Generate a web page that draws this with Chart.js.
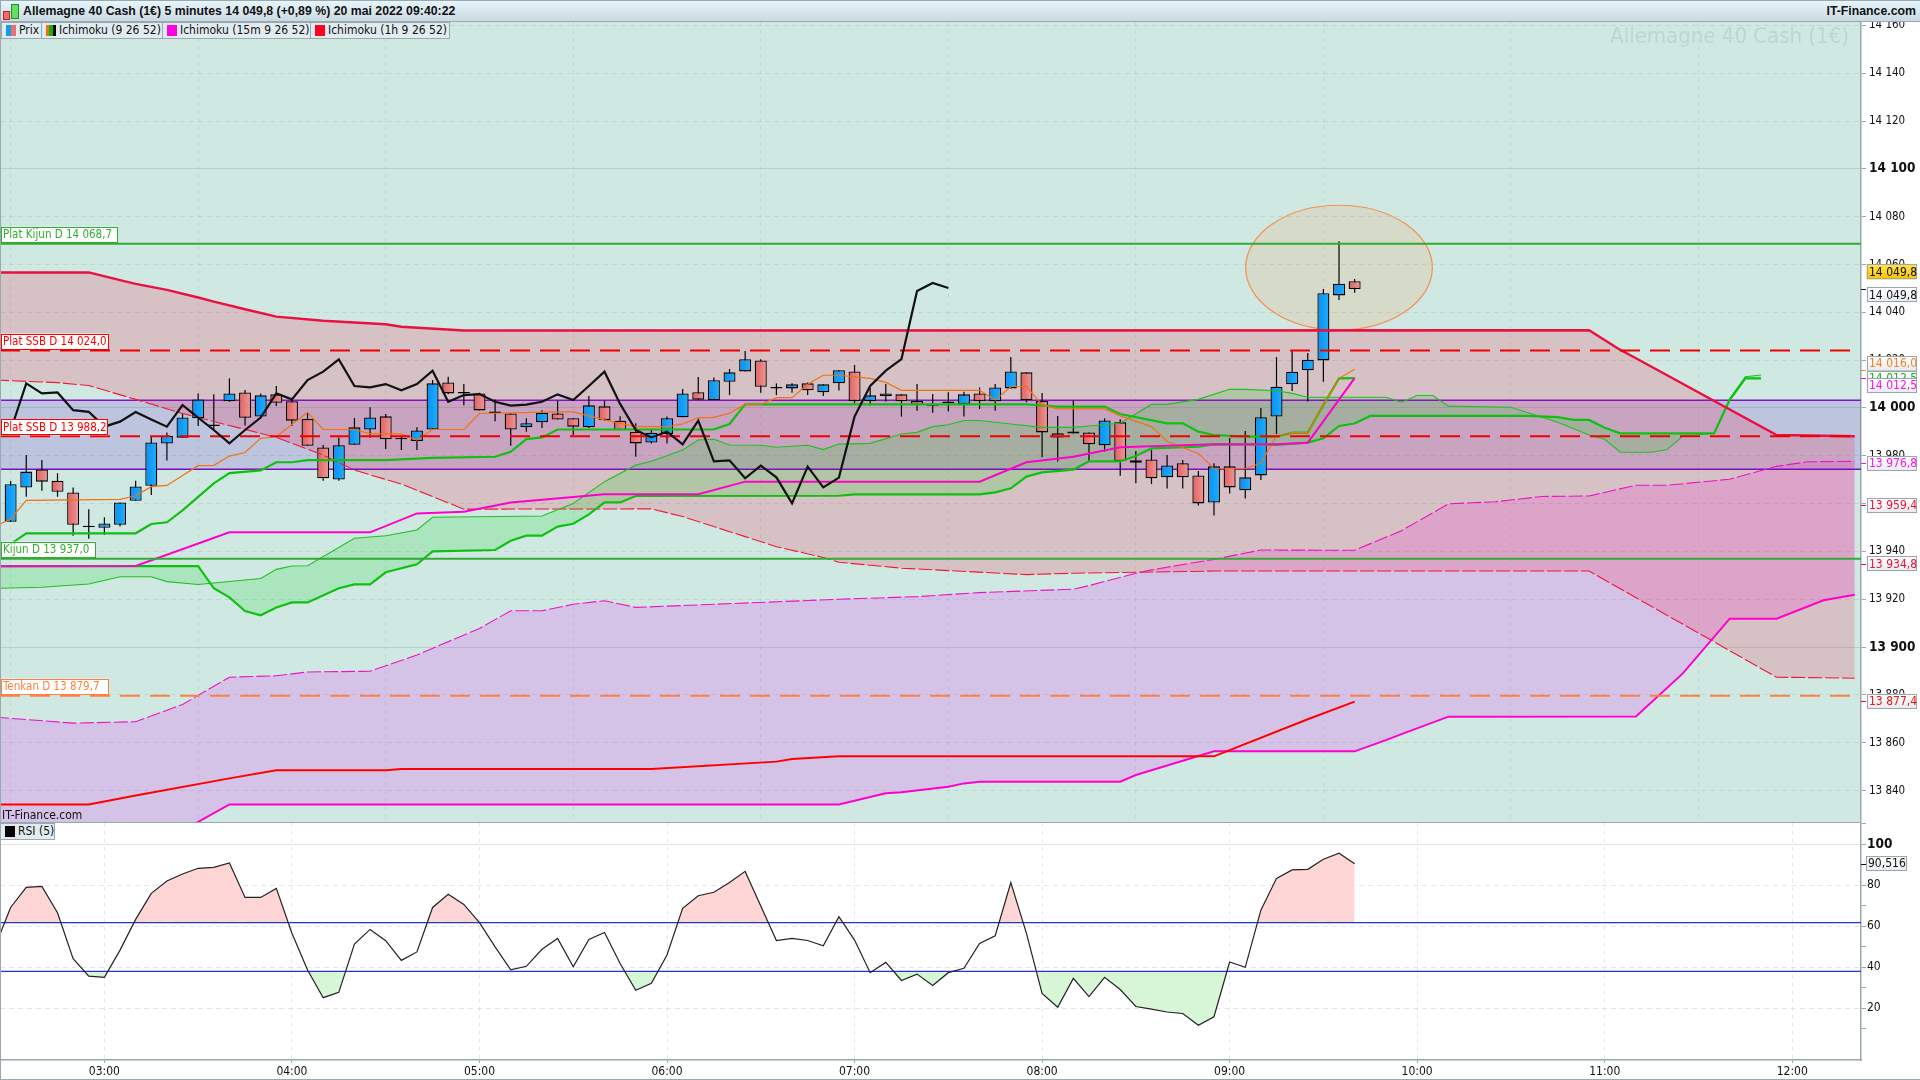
<!DOCTYPE html>
<html lang="fr">
<head>
<meta charset="utf-8">
<title>Allemagne 40 Cash (1€)</title>
<script src="https://cdn.jsdelivr.net/npm/chart.js@4/dist/chart.umd.min.js"></script>
<style>
  html, body { margin: 0; padding: 0; background: #fff; }
  body { width: 1920px; height: 1080px; position: relative; overflow: hidden; font-family: "DejaVu Sans Condensed", "DejaVu Sans", sans-serif; color: #111; }
  canvas { position: absolute; left: 0; }
  #mainChart { top: 0; }
  #rsiChart { top: 823px; }
  #header { position: absolute; left: 0; top: 0; width: 1920px; height: 22px; border-top: 1px solid #9aa8b0; border-bottom: 1px solid #9aa8b0; box-sizing: border-box; background: linear-gradient(#e6f6fb, #cbd9e2); font-family: "Liberation Sans", sans-serif; font-size: 12.3px; font-weight: bold; line-height: 21px; z-index: 3; }
  #title { position: absolute; left: 23px; top: 0; white-space: nowrap; }
  #brand { position: absolute; right: 4px; top: 0; }
  .icon { position: absolute; border: 1px solid #c02020; }
  .chip { position: absolute; top: 22px; height: 17px; box-sizing: border-box; border: 1px solid #9aa8b0; background: #e2ecf0; font-size: 12px; line-height: 15px; white-space: nowrap; z-index: 3; padding-left: 17px; }
  .sw { position: absolute; left: 4px; top: 2px; width: 10px; height: 11px; }
  #watermark { position: absolute; right: 71px; top: 23px; font-size: 22px; color: #bbd7d0; z-index: 2; white-space: nowrap; }
  #itf { position: absolute; left: 2px; top: 808px; font-size: 12px; z-index: 3; }
  .rule { position: absolute; background: #9aa8b0; z-index: 3; }
</style>
</head>
<body>
<canvas id="mainChart" width="1920" height="823"></canvas>
<canvas id="rsiChart" width="1920" height="257"></canvas>
<div id="header">
  <div class="icon" style="left:3px;top:10px;width:5px;height:7px;background:#e87070"></div>
  <div class="icon" style="left:11px;top:3px;width:6px;height:13px;background:#66dd66;border-color:#209020"></div>
  <div id="title">Allemagne 40 Cash (1€) 5 minutes 14 049,8 (+0,89 %) 20 mai 2022 09:40:22</div>
  <div id="brand">IT-Finance.com</div>
</div>
<div class="chip" style="left:1px;width:41px"><span class="sw" style="background:linear-gradient(90deg,#129cf0 50%,#e87070 50%)"></span>Prix</div>
<div class="chip" style="left:41px;width:122px"><span class="sw" style="background:linear-gradient(90deg,#f07010 33%,#10b010 33%,#10b010 66%,#000 66%)"></span>Ichimoku (9 26 52)</div>
<div class="chip" style="left:162px;width:149px"><span class="sw" style="background:#ff00e0"></span>Ichimoku (15m 9 26 52)</div>
<div class="chip" style="left:310px;width:140px"><span class="sw" style="background:#ff0020"></span>Ichimoku (1h 9 26 52)</div>
<div id="watermark">Allemagne 40 Cash (1€)</div>
<div id="itf">IT-Finance.com</div>
<div class="chip" style="left:0;top:823px;width:55px"><span class="sw" style="background:#000"></span>RSI (5)</div>
<div class="rule" style="left:0;top:0;width:1px;height:1080px"></div>
<div class="rule" style="left:0;top:822px;width:1861px;height:1px"></div>
<div class="rule" style="left:0;top:1079px;width:1920px;height:1px"></div>
<script>
// Candles, one every 5 minutes from 02:30 to 09:40
const opens = [13952.4,13966.7,13974.3,13969.6,13964.7,13950.8,13949.9,13951.2,13961.2,13967.5,13985.1,13987.6,13995.7,13993.1,14002.8,14006.5,13996.4,14005.7,14002.8,13995.4,13983.5,13970.1,13984.6,13991,13996.5,13987.5,13986.2,13991,14010.7,14006.7,14006.1,13998.5,13997.7,13991.9,13994,13997.7,13995.7,13991.9,14000.7,13994.7,13990.1,
  13985.6,13989.1,13996.1,14006.6,14003.3,14011,14015.3,14019.9,14008.8,14008.2,14010.3,14006.6,14010.3,14015.3,14002.9,14004.9,14005.7,14002.9,14000.7,14002.7,14001.7,14006.1,14002.8,14008.2,14014.9,14002.9,13989.4,13989.3,13989.8,13984.4,13994,13977.1,13978.5,13971,13976.9,13971.8,13960.5,13975.6,13965.6,13971.8,13996.4,14009.9,14015.8,14019.9,14047.1,14053];
const highs = [13969.5,13980.3,13978.2,13972.7,13966.8,13957.7,13954.3,13960.5,13969.6,13988.3,13989.8,13997.8,14006.1,14005.8,14012.4,14007.5,14006.1,14009.2,14004,13998,13984.5,13987.7,13995.8,14000.3,13997.5,13988.3,13991.9,14011.7,14013.1,14010,14006.4,14003.6,13997.7,13995.7,13999.1,14003,13995.7,14005,14003,13996.6,13993.6,
  13990.8,13996.4,14007.9,14013,14012.8,14016.3,14023.8,14020.4,14010.3,14010.3,14010.7,14009.9,14015.8,14018,14008.5,14010,14005.7,14010,14005.9,14006.6,14006.8,14008.6,14010,14021.3,14014.9,14006.3,13996.7,14003.2,13989.8,13995.7,13995.3,13982,13982.4,13980.3,13978.3,13973.7,13976.9,13987.5,13990.4,14000,14021.3,14024.3,14023,14049.8,14069.7,14054];
const lows = [13952.4,13962.9,13965.4,13962.9,13946.6,13945.3,13947,13950.4,13961.2,13963.6,13978,13987.6,13992.5,13991,14002.6,13992.7,13996.4,14000.8,13992.5,13984.2,13969.6,13969.6,13984.6,13987.7,13982.8,13982.4,13982.4,13990.8,14005.8,14001.2,13999,13994.5,13984.2,13990.1,13991.6,13995.2,13988.7,13991.6,13994.7,13990.8,13979.6,
  13985.2,13985.2,13996.1,14003.5,14003.3,14005.4,14015.3,14006.4,14005.4,14006.4,14005.4,14005,14007.3,14002,14001,14002.7,13996.4,13998.9,13998,13998.5,13996.4,13999.6,13998.9,14008.2,14002.4,13979.4,13977.6,13989.3,13977.8,13981.8,13971.7,13968.5,13968.2,13966.3,13966.3,13959.2,13955,13964.2,13962.1,13969.9,13989.1,14007.1,14002.7,14011,14045.2,14048.2];
const closes = [13968.1,13973.4,13969.2,13965,13951.2,13950.2,13951.7,13960.5,13967.2,13985.6,13988.3,13996,14003.6,13992.5,14006.1,13995.9,14005.3,14002.2,13994.7,13984.2,13970.6,13984.4,13991.9,13996,13986.9,13986.9,13990.6,14010.3,14006.1,14006.1,13999,13997.9,13991,13993.6,13998,13995.2,13992.2,14001.1,13995,13990.8,13985.2,
  13989.7,13995.7,14006.1,14003.5,14011.6,14014.9,14020.4,14008.9,14008.2,14009.9,14007.4,14009.9,14015.8,14002.9,14005.3,14006.1,14002.8,14001.3,14001.1,14002.1,14005.7,14002.9,14008.6,14015.3,14003.3,13989.8,13987.7,13990.2,13984.8,13994.8,13977.8,13978.1,13970.6,13976,13971,13960.1,13975.6,13966.8,13971,13996.1,14008.9,14015.2,14020.2,14048,14052,14049.8];

// Lagging line, one value per candle from 02:30
const chikou = [13990.6,14010.3,14006.1,14006.5,13999.1,13998.4,13992.2,13994.3,13998.3,13995.2,13992.2,14001.2,13996,13990.8,13985.2,13990.8,13996,14006.1,14003.6,14011.7,14015.2,14020.3,14009.2,14008.6,14010,14007.4,14010,14015.6,14002.6,14005.4,14005.8,14002.6,14001,14001.4,14002.6,14005.7,14003.3,14009.2,14015.2,14001.7,13990.8,
  13987.7,13990.1,13984.8,13994.7,13977.7,13978.1,13970.6,13975.9,13971,13960.1,13975.5,13966.8,13970.9,13996.4,14009.2,14015.6,14020.4,14048.9,14052.3,14050.2];

// Broken lines as [candle slot, price]
const tenkan5m = [[-1,13950.4],[0,13953.6],[1,13961.4],[7,13961.8],[8,13963.3],[9,13967.1],[10,13967.6],[12,13975.9],[13,13976],[14,13979.9],[15,13981.4],[16,13987.3],[17,13988],[19,13998.2],[20,13991],[22,13991],[23,13989.2],[25,13989.2],[26,13986.6],[27,13991],[29,13991],[30,13997.7],[35,13998.4],[36,13998.4],[38,13995],[40,13992.2],[42,13992.2],[43,13993.3],[44,13995.9],[45,13996.1],[46,13997.8],[47,14001.5],[48,14001.5],[49,14004.3],[50,14004.3],[51,14009.9],[52,14013.7],[53,14013.7],[55,14012.4],[56,14010.7],[57,14007.4],[62,14007.4],[63,14003.3],[64,14008.9],[65,14009.1],[66,14001.3],[67,13999.6],[70,13999.6],[71,13996.7],[73,13992.2],[74,13986],[76,13981],[77,13974.6],[79,13974.6],[80,13977],[81,13988.3],[82,13989.7],[83,13989.7],[84,14001.3],[85,14012.4],[86,14016.2]];
const kijun5m = [[-1,13941.7],[0,13943.1],[1,13947.6],[8,13947.6],[9,13951.5],[10,13952.2],[11,13957.2],[13,13968.5],[14,13972.8],[16,13973.9],[17,13977.3],[18,13977.3],[19,13978.2],[24,13978.2],[27,13979.1],[31,13979.6],[32,13981.7],[33,13987],[34,13987.7],[35,13991],[45,13991.1],[46,13993.3],[47,14001.5],[65,14001.5],[67,14000.6],[70,14000.6],[71,13997.5],[74,13993.6],[75,13993.6],[76,13990.1],[77,13988.7],[79,13988],[81,13988],[82,13989.7],[83,13989.7],[84,14001.3],[85,14012.4],[86,14012.5]];
const ssb5m = [[-1,13933.9],[12,13933.9],[13,13924.6],[14,13920.8],[15,13915.1],[16,13913.3],[17,13916.6],[18,13918.7],[19,13918.7],[21,13924.6],[22,13926.2],[23,13926.2],[24,13931.3],[26,13934.6],[27,13940],[31,13940.6],[32,13944.5],[33,13946.6],[34,13946.6],[35,13950.4],[36,13951.6],[37,13955.5],[38,13960.5],[39,13960.5],[40,13963.2],[53,13963.3],[54,13963.9],[62,13963.9],[63,13964.7],[64,13966.4],[65,13971.3],[66,13973.1],[68,13974.2],[69,13977.7],[71,13977.7],[72,13979.9],[73,13983.1],[76,13983.8],[77,13984.8],[81,13984.6],[83,13985.5],[84,13987.3],[85,13992.5],[86,13993.5],[87,13996.7],[97,13996.7],[99,13996.2],[100,13995],[101,13995],[102,13991.7],[103,13989.4],[109,13989.4],[110,14003.4],[111,14012.4],[112,14012.4]];
const ssa5m = [[-1,13924.6],[2,13925],[5,13926.4],[7,13929.4],[9,13929.4],[10,13927.4],[12,13926.2],[16,13928.7],[17,13932.5],[18,13933.9],[19,13934],[22,13945.5],[24,13946.6],[26,13949],[27,13954.3],[34,13954.8],[36,13960.1],[38,13969.2],[40,13976.1],[41,13977.7],[43,13982.4],[44,13986.6],[45,13986.9],[46,13984.5],[48,13984.4],[49,13983.6],[51,13984.4],[52,13982.6],[53,13984.9],[55,13985.2],[57,13989.1],[58,13989.8],[59,13992.2],[60,13993],[61,13994.8],[62,13994.8],[64,13993.3],[66,13991.9],[68,13991.9],[69,13992.5],[71,13993.6],[73,14001.5],[74,14001.5],[76,14003.6],[78,14007.8],[79,14007.8],[81,14007.2],[82,14006.1],[83,14004.5],[88,14004.5],[89,14002.4],[90,14005.2],[91,14005.2],[92,14000.8],[96,14000.3],[99,13994],[101,13988.7],[102,13986.9],[103,13981.5],[105,13981.5],[106,13982.6],[107,13988.3],[109,13989.4],[110,14004],[111,14013.1],[112,14013.8]];
const kijun15m = [[-1,13933.8],[8,13933.9],[14,13948],[23,13948],[26,13955.9],[29,13956.6],[32,13960.5],[38,13963.9],[44,13963.9],[47,13969.2],[62,13969.2],[65,13977.3],[68,13979.6],[71,13983.6],[77,13984.8],[81,13984.8],[83,13985.5],[86,14012.5]];
const ssa15m = [[-1,13870.7],[4,13868.2],[8,13868.8],[11,13876],[14,13887.4],[17,13888],[19,13889.6],[23,13889.9],[26,13896.7],[30,13907.8],[32,13915.2],[34,13915.2],[36,13917.9],[38,13919.4],[40,13916.6],[53,13920],[58,13921.1],[62,13922.8],[68,13924.2],[69,13925.7],[72,13930.9],[73,13932.3],[77,13936.7],[80,13940.6],[86,13940.5],[89,13948.7],[92,13959.9],[95,13960.8],[98,13963],[101,13963.2],[104,13967.7],[106,13967.7],[110,13970.2],[113,13975.6],[115,13977.5],[118,13977.7]];
const ssb15m = [[-1,13819],[10,13819],[12,13826.9],[14,13834.2],[53,13834.2],[56,13838.9],[57,13839.3],[60,13841.6],[61,13843],[62,13843.7],[71,13843.7],[72,13846.5],[77,13856.4],[86,13856.4],[88,13861.1],[89,13863.6],[92,13870.9],[104,13871],[107,13889],[110,13911.9],[113,13911.9],[116,13919.6],[118,13921.9]];
const kijun1h = [[-1,13834.2],[5,13834.2],[8,13837.9],[14,13845.1],[17,13848.5],[24,13848.5],[25,13849],[41,13849],[49,13852.1],[50,13853.2],[53,13854.3],[77,13854.3],[83,13869.8],[86,13877.2]];
const ssa1h = [[-1,14011.7],[3,14010.6],[5,14009.4],[8,14003.6],[11,13997.7],[17,13987.7],[20,13980.3],[22,13974],[25,13968.2],[29,13957.7],[41,13957.8],[43,13954.6],[45,13950.4],[47,13946.2],[49,13942],[52,13937.5],[53,13935.5],[57,13933],[60,13932],[65,13930.3],[68,13930.9],[72,13931.3],[77,13931.8],[101,13931.8],[113,13887.4],[118,13887]];
const ssb1h = [[-1,14056.7],[5,14056.7],[7,14053.5],[8,14051.9],[10,14049.4],[12,14046.2],[13,14044.5],[15,14041.3],[17,14038.2],[20,14036.5],[24,14035],[25,14034],[29,14032.4],[101,14032.5],[103,14024.3],[104,14020.8],[113,13988.7],[118,13988.2]];

// Daily levels
const platKijunD = 14068.7;
const platSsbHighD = 14024.0;
const platSsbLowD = 13988.2;
const kijunD = 13937.0;
const tenkanD = 13879.7;
const dailyBandTop = 14003.2;
const dailyBandBottom = 13974.4;

// RSI per candle from 02:30, plus the point before the first candle
const rsiBefore = 50;
const rsi5 = [69.2,79,79.5,66.6,44.2,35.7,35.1,48.4,63.4,76.1,82.1,85.5,88.3,88.8,90.9,74.1,74.1,78.5,56.6,38.7,25.2,27.8,51.4,58.5,53,43.4,47.5,69.2,75.6,70.7,61.8,50,38.8,40.5,48.8,54.1,40.3,53.6,57,41.9,28.8,32.2,46,68.8,74.9,76.6,81.4,86.8,69.9,53.1,54.1,53.1,50.5,64.7,53.3,37.4,42.4,33.6,36.7,31.2,37.4,39.5,51.7,55.4,81.3,56.6,27.3,20.5,34.6,25.7,35.1,29.2,20.9,19.6,18.2,17.5,11.7,15.9,42.6,40,67.9,83.4,87.5,87.8,92.7,95.7,90.5];
const rsiUpper = 61.8;
const rsiLower = 38.0;

// Price axis tags
const tagValues = [14016.0, 14012.5, 14012.5, 13976.8, 13959.4, 13934.8, 13877.4, 14049.8, 14049.8];
const tagColors = ['#f58020', '#22aa22', '#ff10ee', '#ff10ee', '#ee1133', '#ee1133', '#ee1111', '#111', '#111'];
const tagShifts = [-6, 0, 7.5, 0, 0, 0, 0, 6, -17];

// Ellipse drawn on the chart: centre slot, centre price, half width in slots, half height in points
const circleShape = { slot: 85, price: 14058.7, slots: 5.97, points: 26.1 };

const levelLabels = [
  { value: platKijunD, text: 'Plat Kijun D 14 068,7', color: '#2fae2f', width: 117 },
  { value: platSsbHighD, text: 'Plat SSB D 14 024,0', color: '#ff0000', width: 108 },
  { value: platSsbLowD, text: 'Plat SSB D 13 988,2', color: '#ff0000', width: 107 },
  { value: kijunD, text: 'Kijun D 13 937,0', color: '#2fae2f', width: 95 },
  { value: tenkanD, text: 'Tenkan D 13 879,7', color: '#ff8040', width: 108 }
];

const FONT = '"DejaVu Sans Condensed", "DejaVu Sans", sans-serif';
const xMin = 146.6, xMax = 742;

const slotX = s => 150 + s * 5;
const toXY = pts => pts.map(p => ({ x: slotX(p[0]), y: p[1] }));
const fmtTime = v => String(Math.floor(v / 60)).padStart(2, '0') + ':' + String(v % 60).padStart(2, '0');
const fmtInt = v => String(v).replace(/\B(?=(\d{3})(?!\d))/g, ' ');
const fmtTag = v => fmtInt(Math.floor(v)) + ',' + Math.round((v - Math.floor(v)) * 10);

const datasets = [];
function addLine(data, color, width, order, dash) {
  datasets.push({ type: 'line', data: data, borderColor: color, borderWidth: width, borderDash: dash || [], pointRadius: 0, tension: 0, fill: false, order: order });
}
// cloud: two unstroked lines and a fill between them
function addCloud(a, b, color, order) {
  const idx = datasets.length;
  datasets.push({ type: 'line', data: toXY(a), borderWidth: 0, pointRadius: 0, tension: 0, order: order, fill: { target: idx + 1, above: color, below: color } });
  datasets.push({ type: 'line', data: toXY(b), borderWidth: 0, pointRadius: 0, tension: 0, order: order, fill: false });
}
const flat = (v, end) => [{ x: xMin, y: v }, { x: end || xMax, y: v }];

// daily band
const bandIdx = datasets.length;
datasets.push({ type: 'line', data: flat(dailyBandTop), borderWidth: 0, pointRadius: 0, order: 100, fill: { target: bandIdx + 1, above: 'rgba(122,48,206,0.2)', below: 'rgba(122,48,206,0.2)' } });
datasets.push({ type: 'line', data: flat(dailyBandBottom), borderWidth: 0, pointRadius: 0, order: 100, fill: false });
addCloud(ssa15m, ssb15m, 'rgba(240,45,255,0.2)', 95);
addCloud(ssb1h, ssa1h, 'rgba(247,38,81,0.2)', 90);
addCloud(ssa5m, ssb5m, 'rgba(32,213,46,0.2)', 85);
addLine(flat(dailyBandTop), '#8a10c8', 1.5, 60);
addLine(flat(dailyBandBottom), '#7a10b8', 1.5, 60);

// candles, bodies shaded from left to right
const wicks = opens.map((o, i) => ({ x: slotX(i), y: [lows[i], highs[i]] }));
const bodies = opens.map((o, i) => ({ x: slotX(i), y: [Math.min(o, closes[i]), Math.max(o, closes[i])], up: closes[i] >= o }));
function bodyFill(c) {
  if (!c.raw) return '#129cf0';
  const px = c.chart.scales.x.getPixelForValue(c.raw.x);
  if (!isFinite(px)) return c.raw.up ? '#129cf0' : '#e87070';
  const g = c.chart.ctx.createLinearGradient(px - 6, 0, px + 6, 0);
  g.addColorStop(0, c.raw.up ? '#0a8ef0' : '#e06060');
  g.addColorStop(1, c.raw.up ? '#1cb0ff' : '#f09898');
  return g;
}
datasets.push({ type: 'bar', data: wicks, backgroundColor: '#000', borderWidth: 0, barThickness: 1.2, grouped: false, inflateAmount: 0, order: 51 });
datasets.push({ type: 'bar', data: bodies, backgroundColor: bodyFill, borderColor: '#000', borderWidth: 1.3, borderSkipped: false, barThickness: 12, grouped: false, inflateAmount: 0, order: 50 });

addLine(toXY(ssa1h), '#f01838', 1.1, 41, [14, 3]);
addLine(toXY(ssa15m), '#f010c8', 1.1, 41, [14, 3]);
addLine(toXY(ssa5m), '#20c020', 1.1, 40);
addLine(toXY(ssb5m), '#10c010', 2.2, 38);
addLine(toXY(kijun5m), '#10c010', 2.2, 37);
addLine(toXY(tenkan5m), '#f57010', 1.2, 36);
addLine(toXY(ssb15m), '#ff00cc', 2, 35);
addLine(toXY(kijun15m), '#ff00cc', 2, 34);
addLine(toXY(ssb1h), '#ea1040', 2.4, 33);
addLine(toXY(kijun1h), '#ff0000', 2, 32);
addLine(flat(platKijunD), '#33aa33', 2, 30);
addLine(flat(kijunD), '#33aa33', 2, 30);
addLine(flat(tenkanD, slotX(117.8)), '#ff8040', 2, 29, [20, 10]);
addLine(flat(platSsbHighD, slotX(117.8)), '#f00000', 2, 28, [20, 10]);
addLine(flat(platSsbLowD, slotX(117.8)), '#f00000', 2, 28, [20, 10]);
addLine(chikou.map((v, i) => ({ x: slotX(i), y: v })), '#111', 2.2, 25);

function roundBox(ctx, x, y, w, h, border, fill) {
  ctx.fillStyle = fill;
  ctx.fillRect(x, y, w, h);
  ctx.lineWidth = 1;
  ctx.strokeStyle = border;
  ctx.strokeRect(Math.round(x) + 0.5, Math.round(y) + 0.5, Math.round(w) - 1, Math.round(h) - 1);
}

const overlayPlugin = {
  id: 'overlay',
  beforeDraw(chart) {
    const a = chart.chartArea, ctx = chart.ctx;
    ctx.save();
    ctx.fillStyle = '#cfe9e2';
    ctx.fillRect(a.left, a.top, a.width, a.height);
    ctx.restore();
  },
  beforeDatasetsDraw(chart) {
    const x = chart.scales.x, y = chart.scales.y, ctx = chart.ctx;
    const cx = x.getPixelForValue(slotX(circleShape.slot));
    const cy = y.getPixelForValue(circleShape.price);
    const rx = x.getPixelForValue(slotX(circleShape.slot + circleShape.slots)) - cx;
    const ry = cy - y.getPixelForValue(circleShape.price + circleShape.points);
    ctx.save();
    ctx.beginPath();
    ctx.ellipse(cx, cy, rx, ry, 0, 0, Math.PI * 2);
    ctx.fillStyle = 'rgba(255,140,60,0.15)';
    ctx.fill();
    ctx.lineWidth = 1.2;
    ctx.strokeStyle = '#f59050';
    ctx.stroke();
    ctx.restore();
  },
  afterDraw(chart) {
    const y = chart.scales.y, ctx = chart.ctx, a = chart.chartArea;
    ctx.save();
    ctx.textBaseline = 'middle';
    ctx.textAlign = 'left';
    // labels of the daily levels
    ctx.font = '11.5px ' + FONT;
    levelLabels.forEach(l => {
      const py = y.getPixelForValue(l.value);
      roundBox(ctx, 1, py - 17, l.width, 16, l.color, '#fff');
      ctx.fillStyle = l.color;
      ctx.fillText(l.text, 3, py - 8.5);
    });
    // tags on the price axis
    ctx.font = '12px ' + FONT;
    tagValues.forEach((v, i) => {
      const py = y.getPixelForValue(v);
      ctx.strokeStyle = tagColors[i];
      ctx.lineWidth = 1;
      ctx.beginPath();
      ctx.moveTo(a.right, Math.round(py) + 0.5);
      ctx.lineTo(a.right + 5, Math.round(py) + 0.5);
      ctx.stroke();
      const cy = py + tagShifts[i];
      const gold = i === tagValues.length - 1;
      const grad = ctx.createLinearGradient(0, cy - 7.5, 0, cy + 7.5);
      grad.addColorStop(0, gold ? '#ffe24a' : '#ffffff');
      grad.addColorStop(1, gold ? '#f5c400' : '#e8ecee');
      roundBox(ctx, a.right + 5.5, cy - 7.5, 50, 15, '#98a6ae', grad);
      ctx.fillStyle = tagColors[i];
      ctx.fillText(fmtTag(v), a.right + 8, cy + 0.5);
    });
    ctx.restore();
  }
};

const isHundred = c => c.tick && c.tick.value % 100 === 0;
const noOverhang = s => { s.paddingTop = 0; s.paddingBottom = 0; s.paddingLeft = 0; s.paddingRight = 0; };

new Chart(document.getElementById('mainChart'), {
  type: 'line',
  data: { datasets: datasets },
  plugins: [overlayPlugin],
  options: {
    responsive: false,
    animation: false,
    events: [],
    layout: { padding: { top: 22 } },
    plugins: { legend: { display: false }, tooltip: { enabled: false } },
    scales: {
      x: {
        type: 'linear', min: xMin, max: xMax, offset: false,
        afterFit: s => { s.height = 0; noOverhang(s); },
        border: { display: false, dash: [4, 4] },
        grid: { color: 'rgba(150,180,175,0.28)', drawTicks: false },
        ticks: { display: false, stepSize: 60, includeBounds: false }
      },
      y: {
        position: 'right', min: 13826.43, max: 14161.44,
        afterFit: s => { s.width = 59; noOverhang(s); },
        border: { color: '#9aa8b0', width: 1.5, dash: c => (isHundred(c) ? [] : [5, 4]) },
        grid: { color: c => (isHundred(c) ? '#b4d2ca' : 'rgba(150,180,175,0.3)'), tickColor: '#9aa8b0', tickLength: 5 },
        ticks: {
          stepSize: 20, includeBounds: false, autoSkip: false, padding: 3, color: '#111', maxRotation: 0,
          font: c => (isHundred(c) ? { family: FONT, size: 13.5, weight: 'bold' } : { family: FONT, size: 11.5 }),
          callback: v => fmtInt(v)
        }
      }
    }
  }
});

// RSI pane
const isTop = c => c.tick && c.tick.value === 100;
const rsiData = [{ x: slotX(-1), y: rsiBefore }].concat(rsi5.map((v, i) => ({ x: slotX(i), y: v })));
new Chart(document.getElementById('rsiChart'), {
  type: 'line',
  data: {
    datasets: [
      { data: rsiData, borderWidth: 0, pointRadius: 0, tension: 0, order: 5, fill: { target: { value: rsiUpper }, above: '#ffd6d6', below: 'rgba(0,0,0,0)' } },
      { data: rsiData, borderWidth: 0, pointRadius: 0, tension: 0, order: 5, fill: { target: { value: rsiLower }, above: 'rgba(0,0,0,0)', below: '#d6f6d6' } },
      { data: flat(rsiUpper), borderColor: '#2233dd', borderWidth: 1.2, pointRadius: 0, order: 3, fill: false },
      { data: flat(rsiLower), borderColor: '#2233dd', borderWidth: 1.2, pointRadius: 0, order: 3, fill: false },
      { data: rsiData, borderColor: '#222', borderWidth: 1.2, pointRadius: 0, tension: 0, order: 1, fill: false }
    ]
  },
  plugins: [{
    id: 'rsiTag',
    afterDraw(chart) {
      const y = chart.scales.y, ctx = chart.ctx, a = chart.chartArea;
      const py = y.getPixelForValue(rsi5[rsi5.length - 1]);
      ctx.save();
      ctx.strokeStyle = '#111';
      ctx.beginPath();
      ctx.moveTo(a.right, Math.round(py) + 0.5);
      ctx.lineTo(a.right + 5, Math.round(py) + 0.5);
      ctx.stroke();
      const grad = ctx.createLinearGradient(0, py - 8, 0, py + 8);
      grad.addColorStop(0, '#fff');
      grad.addColorStop(1, '#e8ecee');
      roundBox(ctx, a.right + 5, py - 8, 41, 15, '#98a6ae', grad);
      ctx.fillStyle = '#111';
      ctx.font = '12px ' + FONT;
      ctx.textBaseline = 'middle';
      ctx.fillText('90,516', a.right + 7, py);
      ctx.restore();
    }
  }],
  options: {
    responsive: false,
    animation: false,
    events: [],
    layout: { padding: 0 },
    plugins: { legend: { display: false }, tooltip: { enabled: false } },
    scales: {
      x: {
        type: 'linear', min: xMin, max: xMax,
        afterFit: s => { s.height = 20; noOverhang(s); },
        border: { color: '#9aa8b0', width: 1.5, dash: [4, 4] },
        grid: { color: 'rgba(190,190,190,0.35)', tickColor: '#9aa8b0', tickLength: 3 },
        ticks: { stepSize: 60, includeBounds: false, autoSkip: false, maxRotation: 0, padding: 2, color: '#111', font: { family: FONT, size: 12 }, callback: v => fmtTime(v) }
      },
      y: {
        position: 'right', min: -5.2, max: 110.4,
        afterFit: s => { s.width = 59; noOverhang(s); },
        border: { color: '#9aa8b0', width: 1.5, dash: c => (isTop(c) ? [] : [5, 4]) },
        grid: {
          color: c => (c.tick && c.tick.value % 20 === 0 && c.tick.value > 0 ? 'rgba(190,190,190,0.4)' : 'rgba(0,0,0,0)'),
          tickColor: c => (c.tick && c.tick.value > 0 ? '#9aa8b0' : 'rgba(0,0,0,0)'),
          tickLength: 5
        },
        ticks: {
          stepSize: 10, includeBounds: false, autoSkip: false, padding: 1, color: '#111', maxRotation: 0,
          font: c => (isTop(c) ? { family: FONT, size: 13.5, weight: 'bold' } : { family: FONT, size: 12 }),
          callback: v => (v % 20 === 0 && v > 0 ? String(v) : '')
        }
      }
    }
  }
});
</script>
</body>
</html>
